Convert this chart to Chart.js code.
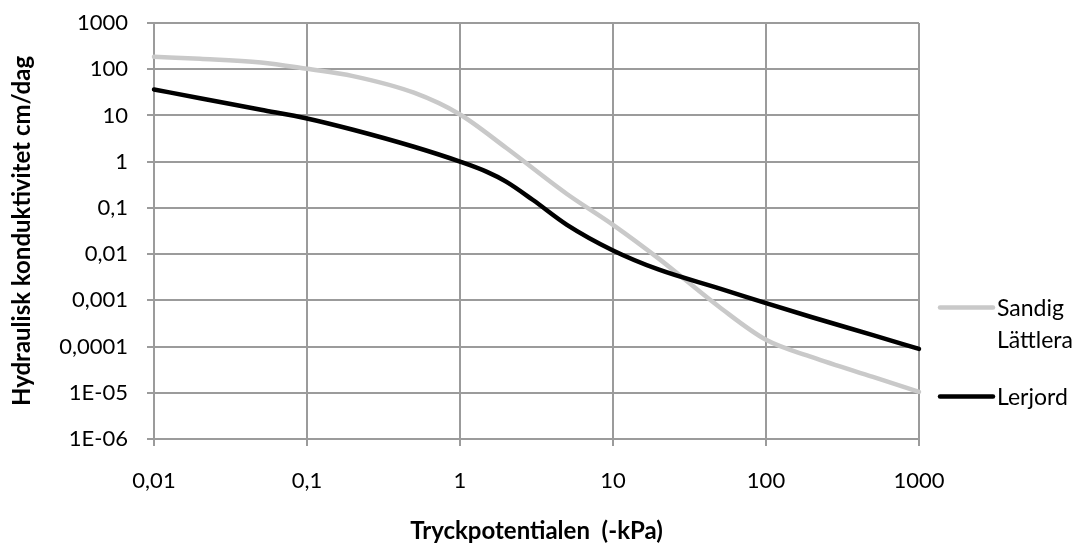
<!DOCTYPE html>
<html>
<head>
<meta charset="utf-8">
<script src="https://cdn.jsdelivr.net/npm/chart.js@4"></script>
<style>
  html, body { margin: 0; padding: 0; background: #fff; }
  #wrap { width: 1080px; height: 546px; position: relative; }
</style>
</head>
<body>
<div id="wrap"><canvas id="chart" width="1080" height="546"></canvas></div>
<script>
// tryckpotential (-kPa) and hydraulisk konduktivitet (cm/dag)
const sandX = [0.01, 0.02, 0.05, 0.1, 0.2, 0.5, 1, 2, 5, 10, 20, 50, 100, 200, 500, 1000];
const sandY = [185, 168, 140, 102, 71, 31, 10.5, 2.0, 0.2, 0.043, 0.0079, 0.0007, 0.00014, 0.000059, 0.000022, 0.0000105];

const lerX = [0.01, 0.02, 0.05, 0.1, 0.2, 0.5, 1, 1.5, 2, 3, 5, 10, 20, 50, 100, 200, 500, 1000];
const lerY = [36.5, 23.6, 13.3, 8.6, 4.9, 2.1, 1.0, 0.6, 0.37, 0.148, 0.043, 0.012, 0.0046, 0.0018, 0.00087, 0.00043, 0.000177, 0.000089];

const xTicks = [0.01, 0.1, 1, 10, 100, 1000];
const xLabels = ["0,01", "0,1", "1", "10", "100", "1000"];
const yTicks = [1e-6, 1e-5, 1e-4, 1e-3, 1e-2, 0.1, 1, 10, 100, 1000];
const yLabels = ["1E-06", "1E-05", "0,0001", "0,001", "0,01", "0,1", "1", "10", "100", "1000"];

const seriesNames = [["Sandig", "Lättlera"], ["Lerjord"]];
const seriesColors = ["#c9c9c9", "#000000"];

const FONT = "Lato, 'Open Sans', sans-serif";
const GRID = "#9b9b9b";

function toPoints(xs, ys) {
  return xs.map((x, i) => ({ x: x, y: ys[i] }));
}

// legend on the right, drawn by hand so the two-line label sits like the original
const sideLegend = {
  id: "sideLegend",
  afterDraw(chart) {
    const ctx = chart.ctx;
    const rows = [307.5, 396.5];
    ctx.save();
    ctx.font = "23px " + FONT;
    ctx.fillStyle = "#000";
    ctx.textBaseline = "middle";
    ctx.textAlign = "left";
    ctx.lineCap = "round";
    seriesNames.forEach((lines, i) => {
      const y = rows[i];
      ctx.strokeStyle = seriesColors[i];
      ctx.lineWidth = 4.5;
      ctx.beginPath();
      ctx.moveTo(940, y);
      ctx.lineTo(993, y);
      ctx.stroke();
      lines.forEach((t, j) => {
        ctx.fillText(t, 997, y + 1 + j * 32);
      });
    });
    ctx.restore();
  }
};

new Chart(document.getElementById("chart"), {
  type: "scatter",
  data: {
    datasets: [
      {
        label: "Sandig Lättlera",
        data: toPoints(sandX, sandY),
        showLine: true,
        borderColor: seriesColors[0],
        backgroundColor: seriesColors[0],
        borderWidth: 4.5,
        pointRadius: 0,
        cubicInterpolationMode: "monotone",
        borderCapStyle: "round",
        clip: false,
        order: 1
      },
      {
        label: "Lerjord",
        data: toPoints(lerX, lerY),
        showLine: true,
        borderColor: seriesColors[1],
        backgroundColor: seriesColors[1],
        borderWidth: 4.5,
        pointRadius: 0,
        cubicInterpolationMode: "monotone",
        borderCapStyle: "round",
        clip: false,
        order: 0
      }
    ]
  },
  options: {
    responsive: false,
    animation: false,
    layout: { padding: { left: 0, top: 23, right: 161, bottom: 0 } },
    plugins: {
      legend: { display: false },
      tooltip: { enabled: false }
    },
    scales: {
      x: {
        type: "logarithmic",
        min: 0.01,
        max: 1000,
        afterBuildTicks: s => { s.ticks = xTicks.map(v => ({ value: v })); },
        afterFit: s => { s.height = 107; },
        grid: { color: GRID, lineWidth: 2, tickLength: 7 },
        border: { color: GRID, width: 2 },
        ticks: {
          color: "#000",
          font: { family: FONT, size: 22, lineHeight: 1.2 },
          padding: 22,
          maxRotation: 0,
          autoSkip: false,
          callback: (v, i) => xLabels[i]
        },
        title: {
          display: true,
          text: "Tryckpotentialen  (-kPa)",
          color: "#000",
          font: { family: FONT, size: 24, weight: "bold", lineHeight: 1.2 },
          padding: { top: 0, bottom: 0 }
        }
      },
      y: {
        type: "logarithmic",
        min: 1e-6,
        max: 1000,
        afterBuildTicks: s => { s.ticks = yTicks.map(v => ({ value: v })); },
        afterFit: s => {
          s.width = 154;
          s.paddingTop = 0;
          s.paddingBottom = 0;
        },
        grid: { color: GRID, lineWidth: 2, tickLength: 7 },
        border: { color: GRID, width: 2 },
        ticks: {
          color: "#000",
          font: { family: FONT, size: 22, lineHeight: 1.2 },
          padding: 19,
          autoSkip: false,
          callback: (v, i) => yLabels[i]
        },
        title: {
          display: true,
          text: "Hydraulisk konduktivitet cm/dag",
          color: "#000",
          font: { family: FONT, size: 24, weight: "bold", lineHeight: 1.2 },
          padding: { top: 8, bottom: 0 }
        }
      }
    }
  },
  plugins: [sideLegend]
});
</script>
</body>
</html>
